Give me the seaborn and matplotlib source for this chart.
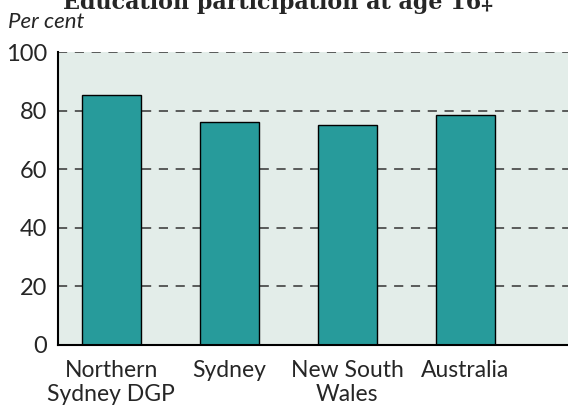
import pandas as pd
import seaborn as sns
import matplotlib.pyplot as plt

regions = ["Northern\nSydney DGP", "Sydney", "New South\nWales", "Australia"]
participation = [85.3, 76.1, 75.2, 78.6]

df = pd.DataFrame({"Region": regions, "Per cent": participation})

sns.set_style("white")
plt.rcParams['font.family'] = ['Lato', 'DejaVu Sans']

fig = plt.figure(figsize=(5.68, 4.13), dpi=100)
ax = fig.add_axes([0.102, 0.165, 0.898, 0.709])
ax.set_facecolor("#e3ede9")

ax.set_axisbelow(True)
ax.yaxis.grid(True, linestyle=(0, (6, 5)), color="#333333", linewidth=1.1)
ax.xaxis.grid(False)

sns.barplot(data=df, x="Region", y="Per cent", color="#279b9b", saturation=1,
            width=0.5, edgecolor="black", linewidth=1.0, ax=ax)

ax.set_ylim(0, 100)
ax.set_xlim(-0.45, 3.87)
ax.set_yticks([0, 20, 40, 60, 80, 100])
ax.tick_params(axis="y", length=0, labelsize=17, pad=8)
ax.tick_params(axis="x", length=0, labelsize=16.5, pad=11)
for lbl in ax.get_xticklabels():
    lbl.set_linespacing(1.15)
ax.set_xlabel("")
ax.set_ylabel("")

for side in ["top", "right"]:
    ax.spines[side].set_visible(False)
for side in ["left", "bottom"]:
    ax.spines[side].set_color("black")
    ax.spines[side].set_linewidth(1.5)

fig.text(0.014, 0.946, "Per cent", fontsize=16, style="italic", va="center")
fig.text(0.49, 0.978, "Education participation at age 16\u2021", fontsize=16,
         fontweight="bold", ha="center", va="baseline", family="DejaVu Serif")

fig.savefig("out.png", dpi=100)
